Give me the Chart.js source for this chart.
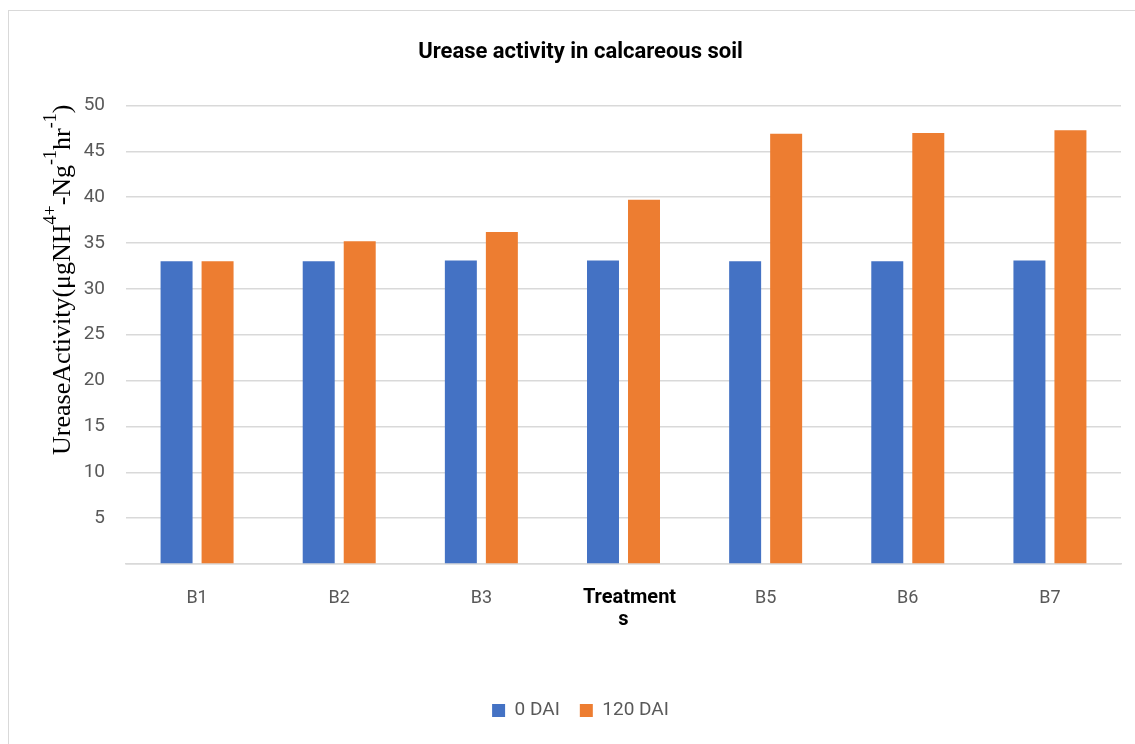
<!DOCTYPE html>
<html>
<head>
<meta charset="utf-8">
<script src="https://cdn.jsdelivr.net/npm/chart.js@4"></script>
<style>
  html, body { margin: 0; padding: 0; background: #fff; }
  #frame {
    position: absolute; left: 8px; top: 10px; width: 1140px; height: 750px;
    border: 1px solid #d9d9d9; box-sizing: border-box;
  }
  #wrap { position: absolute; left: 0; top: 0; width: 1135px; height: 744px; }
</style>
</head>
<body>
<div id="frame"></div>
<div id="wrap"><canvas id="chart" width="1135" height="744"></canvas></div>
<script>
// chart data
const treatments = ['B1', 'B2', 'B3', 'B4', 'B5', 'B6', 'B7'];
const dai0 = [33.0, 33.0, 33.1, 33.1, 33.0, 33.0, 33.1];
const dai120 = [33.0, 35.2, 36.2, 39.7, 46.9, 47.0, 47.3];
const seriesNames = ['0 DAI', '120 DAI'];
const chartTitle = 'Urease activity in calcareous soil';
// y title pieces: [text, superscript?]
const yTitleParts = [['UreaseActivity(\u03bcgNH', 0], ['4+', 1], ['-Ng', 0], ['-1', 1], ['hr', 0], ['-1', 1], [')', 0]];
const xTitle = ['Treatment', 's'];

const grey = '#595959';
const sans = 'Roboto, "Liberation Sans", sans-serif';
const serif = '"Liberation Serif", "DejaVu Serif", serif';

// y title with real superscripts, rotated along the left edge
const yTitlePlugin = {
    id: 'yTitle',
    afterDraw(c) {
        const ctx = c.ctx;
        ctx.save();
        ctx.translate(70, 455);
        ctx.rotate(-Math.PI / 2);
        ctx.fillStyle = '#000';
        ctx.textBaseline = 'alphabetic';
        let x = 0;
        yTitleParts.forEach(p => {
            ctx.font = (p[1] ? '18px ' : '26px ') + serif;
            ctx.fillText(p[0], x, p[1] ? -14 : 0);
            x += ctx.measureText(p[0]).width;
        });
        ctx.restore();
    }
};

// the x title sits over the middle tick label, with a white box behind it
const xTitlePlugin = {
    id: 'xTitle',
    afterDraw(c) {
        const ctx = c.ctx;
        const cx = c.scales.x.getPixelForValue(3) + 6;
        ctx.save();
        ctx.fillStyle = '#fff';
        ctx.fillRect(cx - 52, 578, 104, 54);
        ctx.fillStyle = '#000';
        ctx.font = 'bold 20px ' + sans;
        ctx.textAlign = 'center';
        ctx.textBaseline = 'middle';
        ctx.fillText(xTitle[0], cx, 598);
        ctx.fillText(xTitle[1], cx - 6, 620);
        ctx.restore();
    }
};

new Chart(document.getElementById('chart'), {
    type: 'bar',
    data: {
        labels: treatments,
        datasets: [
            {
                label: seriesNames[0],
                data: dai0,
                backgroundColor: '#4472C4',
                barPercentage: 0.78,
                categoryPercentage: 0.577
            },
            {
                label: seriesNames[1],
                data: dai120,
                backgroundColor: '#ED7D31',
                barPercentage: 0.78,
                categoryPercentage: 0.577
            }
        ]
    },
    options: {
        responsive: false,
        animation: false,
        layout: { padding: { left: 40, right: 14, top: 0, bottom: 14 } },
        plugins: {
            title: {
                display: true,
                text: chartTitle,
                color: '#000',
                font: { family: sans, size: 22, weight: 'bold' },
                padding: { top: 39, bottom: 40 }
            },
            legend: {
                position: 'bottom',
                labels: {
                    boxWidth: 13,
                    boxHeight: 13,
                    color: grey,
                    font: { family: sans, size: 19 },
                    padding: 20
                }
            },
            tooltip: { enabled: false }
        },
        scales: {
            x: {
                grid: { display: false },
                border: { color: '#d9d9d9', width: 1.5 },
                ticks: {
                    color: grey,
                    font: { family: sans, size: 18 },
                    padding: 16
                },
                afterFit(scale) { scale.height = 117; }
            },
            y: {
                min: 0,
                max: 50,
                grid: { color: '#d9d9d9', lineWidth: 1.5, drawTicks: false },
                border: { display: false },
                ticks: {
                    stepSize: 5,
                    color: grey,
                    font: { family: sans, size: 19 },
                    padding: 21,
                    callback: v => v === 0 ? '' : v
                },
                afterFit(scale) { scale.width = 86; }
            }
        }
    },
    plugins: [yTitlePlugin, xTitlePlugin]
});
</script>
</body>
</html>
